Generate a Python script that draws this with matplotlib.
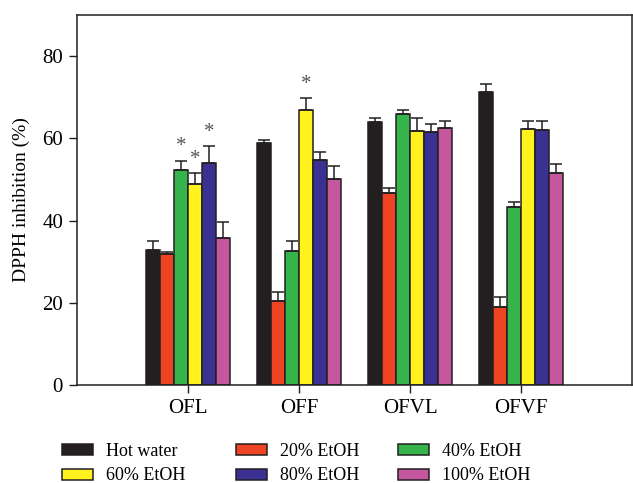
import numpy as np
import matplotlib
matplotlib.use("Agg")
import matplotlib.pyplot as plt
from matplotlib.patches import Patch

plt.rcParams['font.family'] = ['Liberation Serif', 'DejaVu Serif']
plt.rcParams['font.size'] = 13

groups = ["OFL", "OFF", "OFVL", "OFVF"]
solvents = ["Hot water", "20% EtOH", "40% EtOH", "60% EtOH", "80% EtOH", "100% EtOH"]
colors = ["#231f20", "#ee4424", "#35b44b", "#fff21d", "#3a3192", "#c4579e"]

# mean DPPH inhibition (%) per solvent, one entry per group
hot_water = [32.9, 58.8, 64.0, 71.3]
etoh20 = [31.8, 20.5, 46.7, 19.0]
etoh40 = [52.2, 32.6, 65.9, 43.2]
etoh60 = [48.8, 66.8, 61.8, 62.2]
etoh80 = [54.1, 54.7, 61.6, 62.0]
etoh100 = [35.8, 50.0, 62.4, 51.6]

# upper error bars
err_hot_water = [2.2, 0.9, 1.0, 1.9]
err_etoh20 = [0.6, 2.1, 1.1, 2.5]
err_etoh40 = [2.4, 2.4, 1.0, 1.3]
err_etoh60 = [2.7, 3.0, 3.2, 2.1]
err_etoh80 = [4.0, 1.9, 1.9, 2.1]
err_etoh100 = [3.9, 3.3, 1.8, 2.1]

# significance stars: (group index, solvent index)
stars = [(0, 2), (0, 3), (0, 4), (1, 3)]

values = [hot_water, etoh20, etoh40, etoh60, etoh80, etoh100]
errors = [err_hot_water, err_etoh20, err_etoh40, err_etoh60, err_etoh80, err_etoh100]

fig = plt.figure(figsize=(6.33, 4.83), dpi=100)
ax = fig.add_axes([0.1216, 0.2029, 0.8768, 0.7661])

x = np.arange(1, len(groups) + 1)
w = 0.126
handles = []
for i, (vals, errs) in enumerate(zip(values, errors)):
    pos = x + (i - 2.5) * w
    ax.bar(pos, vals, width=w, color=colors[i], edgecolor="#231f20", linewidth=1.1, zorder=2)
    ax.errorbar(pos, vals, yerr=[np.zeros(len(errs)), errs], fmt="none",
                ecolor="#231f20", elinewidth=1.1, capsize=4.5, capthick=1.1, zorder=3)
    handles.append(Patch(facecolor=colors[i], edgecolor="#231f20", linewidth=1.1, label=solvents[i]))

for g, s in stars:
    xs = x[g] + (s - 2.5) * w
    top = values[s][g] + errors[s][g]
    ax.text(xs, top + 1.0, "*", ha="center", va="bottom", fontsize=15, color="#555555")

ax.set_xlim(0, 5)
ax.set_ylim(0, 90)
ax.set_xticks(x)
ax.set_xticklabels(groups)
ax.set_yticks([0, 20, 40, 60, 80])
ax.tick_params(direction="out", length=6, width=1, color="#231f20", pad=4, labelsize=15)
ax.set_ylabel("DPPH inhibition (%)", fontsize=14, labelpad=9)
for sp in ax.spines.values():
    sp.set_linewidth(1.1)
    sp.set_color("#231f20")

# legend laid out as three columns of two entries
col_x = [62, 236, 398]
for c in range(3):
    pair = [c, c + 3]
    fig.legend([handles[k] for k in pair], [solvents[k] for k in pair],
               loc="upper left", bbox_to_anchor=(col_x[c] / 633, 0.083), frameon=False,
               handlelength=1.7, handleheight=0.55, handletextpad=0.75,
               labelspacing=0.42, borderpad=0, borderaxespad=0)

fig.savefig("out.png", dpi=100)
